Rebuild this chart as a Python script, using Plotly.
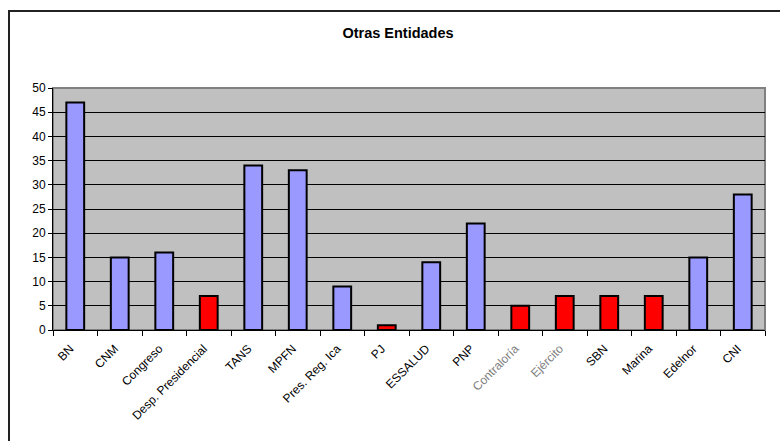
import plotly.graph_objects as go

categories = ["BN", "CNM", "Congreso", "Desp. Presidencial", "TANS", "MPFN",
              "Pres. Reg. Ica", "PJ", "ESSALUD", "PNP", "Contraloría", "Ejército",
              "SBN", "Marina", "Edelnor", "CNI"]
values = [47, 15, 16, 7, 34, 33, 9, 1, 14, 22, 5, 7, 7, 7, 15, 28]
is_red = [False, False, False, True, False, False, False, True, False, False,
          True, True, True, True, False, False]
grey_labels = ["Contraloría", "Ejército"]
y_ticks = list(range(0, 55, 5))

BLUE = "#9999FF"
RED = "#FF0000"
colors = [RED if r else BLUE for r in is_red]
ticktext = [f'<span style="color:#808080">{c}</span>' if c in grey_labels else c
            for c in categories]

fig = go.Figure()
fig.add_trace(go.Bar(
    x=categories, y=values,
    marker=dict(color=colors, line=dict(color="black", width=2)),
    width=0.4,
))

W, H = 780, 441
L, R, T, B = 53, 15, 88, 111
pw, ph = W - L - R, H - T - B

def px_to_paper_x(px):
    return (px - L) / pw

def py_to_paper_y(py):
    return (H - B - py) / ph

fig.update_layout(
    width=W, height=H,
    margin=dict(l=L, r=R, t=T, b=B),
    paper_bgcolor="white",
    plot_bgcolor="#C0C0C0",
    font=dict(family="Liberation Sans, Arial, sans-serif", color="black", size=12),
    showlegend=False,
    title=dict(text="<b>Otras Entidades</b>", x=px_to_paper_x(398), xref="paper",
               xanchor="center", y=1 - 33 / H, yanchor="middle",
               font=dict(size=14.5, color="black")),
    xaxis=dict(
        tickmode="array", tickvals=categories, ticktext=ticktext,
        tickangle=-45, tickfont=dict(size=12),
        ticks="outside", ticklen=5, tickwidth=1, tickcolor="black",
        tickson="boundaries",
        ticklabelstandoff=6, ticklabelshift=-5,
        showline=True, linecolor="black", linewidth=1,
        showgrid=False,
    ),
    yaxis=dict(
        range=[0, 50], tickmode="array", tickvals=y_ticks,
        ticks="outside", ticklen=4, tickcolor="black",
        showline=True, linecolor="black", linewidth=1,
        showgrid=True, gridcolor="black", gridwidth=1,
        zeroline=False, tickfont=dict(size=12),
    ),
    shapes=[
        dict(type="rect", xref="paper", yref="paper",
             x0=0, x1=1, y0=0, y1=1,
             line=dict(color="#808080", width=2), layer="below"),
        dict(type="rect", xref="paper", yref="paper",
             x0=px_to_paper_x(9), x1=px_to_paper_x(790),
             y0=py_to_paper_y(450), y1=py_to_paper_y(11),
             line=dict(color="#222222", width=2), layer="above"),
    ],
    bargap=0.6,
)

fig.write_html("out.html")
